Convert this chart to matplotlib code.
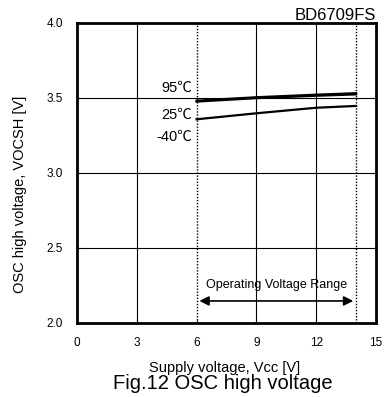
import matplotlib.pyplot as plt

plt.rcParams['font.family'] = ['Liberation Sans', 'DejaVu Sans']

# supply voltage sweep [V] and OSC high voltage [V] per temperature
vcc = [6, 9, 12, 14]
v_95 = [3.482, 3.505, 3.522, 3.532]
v_25 = [3.476, 3.499, 3.515, 3.524]
v_m40 = [3.358, 3.398, 3.435, 3.447]

temp_labels = ['95℃', '25℃', '-40℃']
label_y = [3.569, 3.387, 3.242]

vcc_min, vcc_max = 6, 14

fig = plt.figure(figsize=(3.85, 3.97), dpi=100)
ax = fig.add_axes([0.2, 0.1864, 0.7766, 0.7557])

ax.plot(vcc, v_95, color='black', lw=1.6)
ax.plot(vcc, v_25, color='black', lw=1.6)
ax.plot(vcc, v_m40, color='black', lw=1.6)

for t, y in zip(temp_labels, label_y):
    ax.text(5.77, y, t, ha='right', va='center', fontsize=10.5,
            family=['Liberation Sans', 'Noto Sans CJK JP'])

# grid
for x in [3, 9, 12]:
    ax.axvline(x, color='black', lw=0.8)
for y in [2.5, 3.0, 3.5]:
    ax.axhline(y, color='black', lw=0.8)
for x in [vcc_min, vcc_max]:
    ax.axvline(x, color='black', lw=1.0, ls=(0, (1, 1.2)))

# operating range arrow
ax.annotate('', xy=(vcc_max, 2.147), xytext=(vcc_min, 2.147),
            arrowprops=dict(arrowstyle='<|-|>', color='black', lw=1.2,
                            mutation_scale=14))
ax.text(10.03, 2.255, 'Operating Voltage Range', ha='center', va='center', fontsize=9)

ax.set_xlim(0, 15)
ax.set_ylim(2.0, 4.0)
ax.set_xticks([0, 3, 6, 9, 12, 15])
ax.set_yticks([2.0, 2.5, 3.0, 3.5, 4.0])
ax.set_yticklabels(['2.0', '2.5', '3.0', '3.5', '4.0'])
ax.tick_params(labelsize=8.5, length=2, direction='in', pad=10)
for s in ax.spines.values():
    s.set_linewidth(2)

ax.set_xlabel('Supply voltage, Vcc [V]', fontsize=10.5, va='center')
ax.xaxis.set_label_coords(0.495, -0.15)
ax.set_ylabel('OSC high voltage, VOCSH [V]', fontsize=10.5, va='center')
ax.yaxis.set_label_coords(-0.19, 0.43)
ax.set_title('BD6709FS', loc='right', fontsize=12, pad=2)

fig.text(0.58, 0.033, 'Fig.12 OSC high voltage', ha='center', va='center', fontsize=14.5)

fig.savefig('out.png', dpi=100)
